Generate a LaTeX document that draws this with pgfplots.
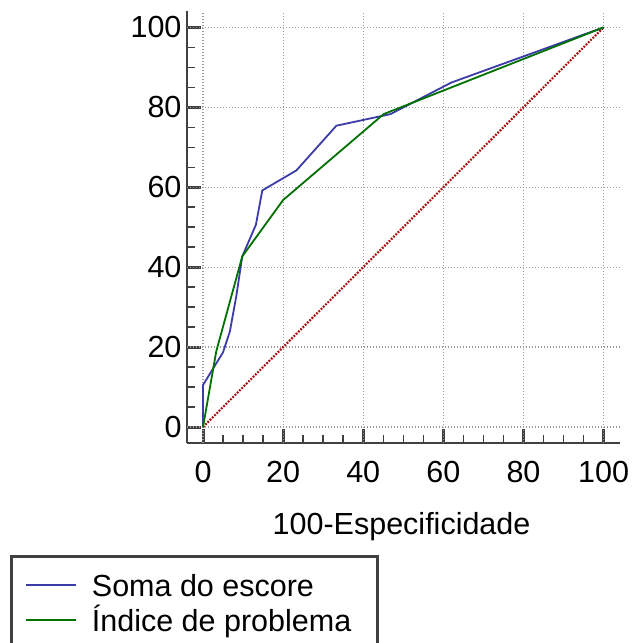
\documentclass[border=0pt]{standalone}
\usepackage{fontspec}
\setmainfont{Liberation Sans}
\usepackage{pgfplots}
\pgfplotsset{compat=1.18}
\definecolor{spine}{HTML}{404040}
\definecolor{blueL}{HTML}{3C3CA8}
\definecolor{greenL}{HTML}{007000}
\definecolor{redL}{HTML}{A81010}
\definecolor{gridc}{HTML}{999999}
\begin{document}
\begin{tikzpicture}[x=1pt,y=1pt]
\begin{axis}[
  at={(0,0)}, anchor=south west,
  scale only axis, width=432.6pt, height=431.6pt,
  xmin=-4, xmax=104, ymin=-4, ymax=104,
  axis x line=bottom, axis y line=left,
  axis line style={-, spine, line width=2.8pt},
  xtick={0,20,...,100}, ytick={0,20,...,100},
  minor tick num=3,
  tick align=inside,
  major tick length=14.5pt, minor tick length=8pt,
  tick style={draw=spine},
  major x tick style={draw=spine, line width=3pt},
  major y tick style={draw=spine, line width=3pt},
  minor x tick style={draw=spine, line width=1.5pt},
  minor y tick style={draw=spine, line width=1.5pt},
  extra x ticks={0,20,40,60,80,100}, extra y ticks={0,20,40,60,80,100},
  extra x tick labels={}, extra y tick labels={},
  extra tick style={grid=major, major tick length=0pt,
    major grid style={gridc, line width=1.2pt, dash pattern=on 1.2pt off 1.8pt}},
  /pgf/number format/assume math mode=true,
  tick label style={font=\fontsize{30.5}{36}\selectfont},
  xticklabel style={anchor=base, yshift=-39.7pt},
  yticklabel style={xshift=-2pt},
  xlabel={100-Especificidade},
  xlabel style={at={(axis description cs:0.496,-0.2115)}, anchor=base, font=\fontsize{30.5}{36}\selectfont},
  legend style={at={(axis description cs:-0.409,-0.2595)}, anchor=north west,
    draw=spine, line width=2.5pt, font=\fontsize{30.5}{36}\selectfont,
    inner xsep=14pt, inner ysep=14pt, row sep=3pt,
    nodes={inner sep=0pt, text height=26pt, text depth=6pt},
    /tikz/every odd column/.append style={column sep=15pt}},
  legend cell align=left,
  legend image code/.code={\draw[#1, line width=1.6pt] (0pt,1pt) -- (50pt,1pt);},
]
\addplot[redL, line width=2.2pt, dash pattern=on 1.8pt off 1.4pt, forget plot] coordinates {(0,0) (100,100)};
\addplot[blueL, line width=1.8pt] coordinates {
(0,0) (0,10.5) (5,18.7) (6.7,23.9) (8.3,32.7) (9.8,42.7) (13.2,50.6) (14.8,59.2)
(23.3,64.2) (33.3,75.4) (46.8,78.3) (62,86.2) (100,100)};
\addlegendentry{Soma do escore}
\addplot[greenL, line width=1.8pt] coordinates {
(0,0) (3.3,18.9) (9.8,42.7) (20,56.8) (45.1,78.3) (100,100)};
\addlegendentry{Índice de problema\hspace*{12pt}}
\end{axis}
\pgfresetboundingbox
\path[use as bounding box] (-187,-200) rectangle (447,443);
\end{tikzpicture}
\end{document}
